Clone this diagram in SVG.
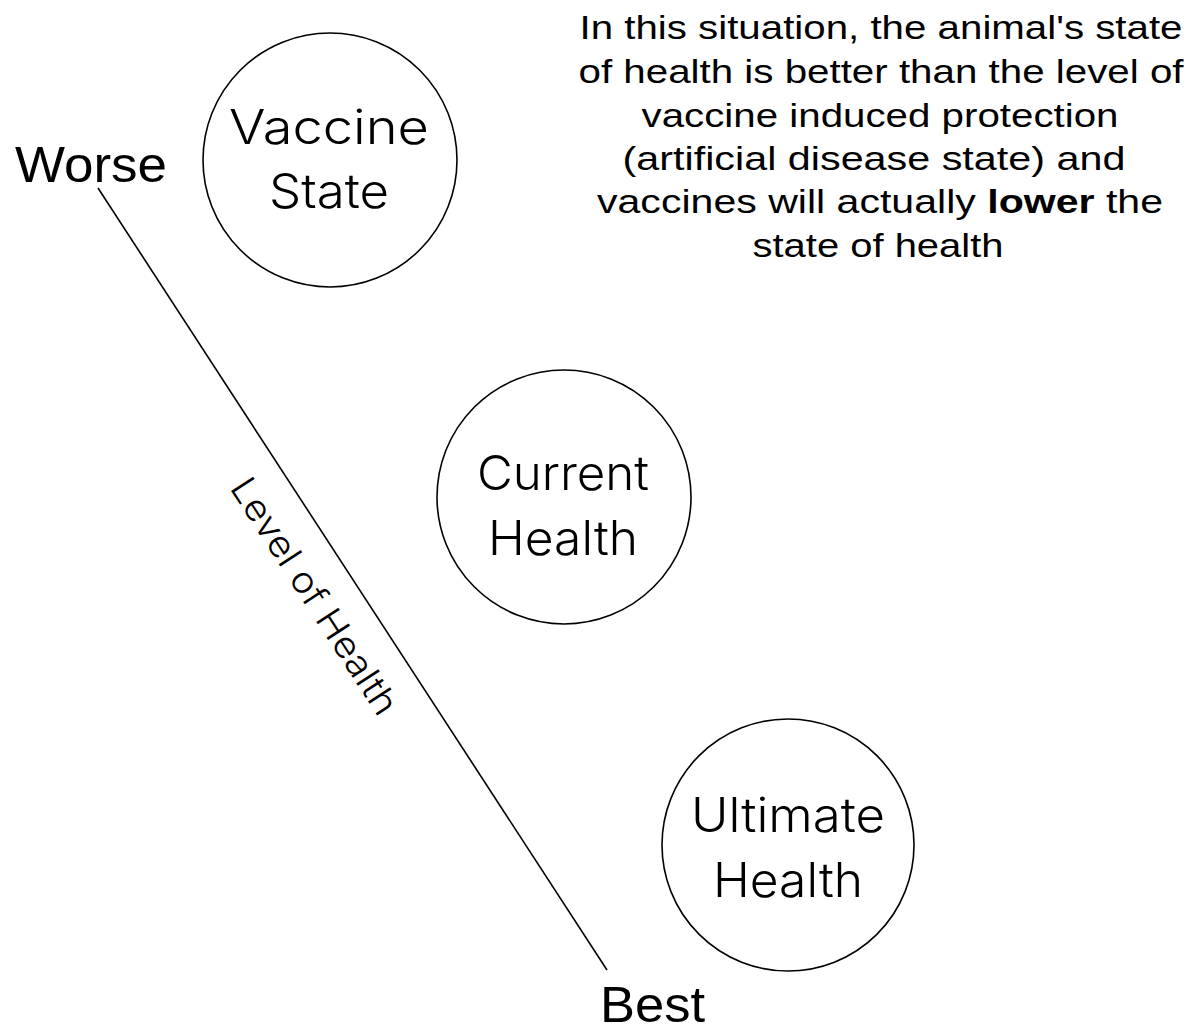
<svg xmlns="http://www.w3.org/2000/svg" width="1190" height="1031" viewBox="0 0 1190 1031">
<style>
.c{fill:#fff;stroke:#000;stroke-width:1.6}
.n{font-family:Inter,"Liberation Sans",Arial,sans-serif;font-weight:300;font-size:48px;text-anchor:middle;fill:#000}
.l{font-family:"Liberation Sans",Arial,sans-serif;font-size:50px;fill:#000}
.d{font-family:"Liberation Sans",Arial,sans-serif;font-size:33px;text-anchor:middle;fill:#000}
</style>
<rect width="1190" height="1031" fill="#fff"/>
<g id="connectors">
<line x1="98" y1="188" x2="607" y2="970" stroke="#000" stroke-width="1.6"/>
</g>
<g id="axis-label">
<text class="l" x="15" y="182" textLength="152" lengthAdjust="spacingAndGlyphs">Worse</text>
<text class="l" x="600" y="1022" font-size="48" textLength="105" lengthAdjust="spacingAndGlyphs">Best</text>
<text transform="translate(304,603) rotate(56.94)" font-family="Inter, Liberation Sans, Arial, sans-serif" font-weight="300" font-size="36" text-anchor="middle" textLength="275" lengthAdjust="spacingAndGlyphs">Level of Health</text>
</g>
<g id="vaccine-state">
<circle class="c" cx="330" cy="160" r="127"/>
<text class="n" x="329" y="144" textLength="200" lengthAdjust="spacingAndGlyphs">Vaccine</text>
<text class="n" x="329" y="208" textLength="120" lengthAdjust="spacingAndGlyphs">State</text>
</g>
<g id="current-health">
<circle class="c" cx="564" cy="497" r="127"/>
<text class="n" x="563" y="490" textLength="172" lengthAdjust="spacingAndGlyphs">Current</text>
<text class="n" x="563" y="555" textLength="150" lengthAdjust="spacingAndGlyphs">Health</text>
</g>
<g id="ultimate-health">
<circle class="c" cx="788" cy="845" r="126"/>
<text class="n" x="788" y="832" textLength="194" lengthAdjust="spacingAndGlyphs">Ultimate</text>
<text class="n" x="788" y="897" textLength="150" lengthAdjust="spacingAndGlyphs">Health</text>
</g>
<g id="note">
<text class="d" x="881" y="39" textLength="603" lengthAdjust="spacingAndGlyphs">In this situation, the animal's state</text>
<text class="d" x="881" y="83" textLength="605" lengthAdjust="spacingAndGlyphs">of health is better than the level of</text>
<text class="d" x="880" y="127" textLength="477" lengthAdjust="spacingAndGlyphs">vaccine induced protection</text>
<text class="d" x="874" y="170" textLength="503" lengthAdjust="spacingAndGlyphs">(artificial disease state) and</text>
<text class="d" x="880" y="213" textLength="566" lengthAdjust="spacingAndGlyphs">vaccines will actually <tspan font-weight="bold">lower</tspan> the</text>
<text class="d" x="878" y="257" textLength="251" lengthAdjust="spacingAndGlyphs">state of health</text>
</g>
</svg>
